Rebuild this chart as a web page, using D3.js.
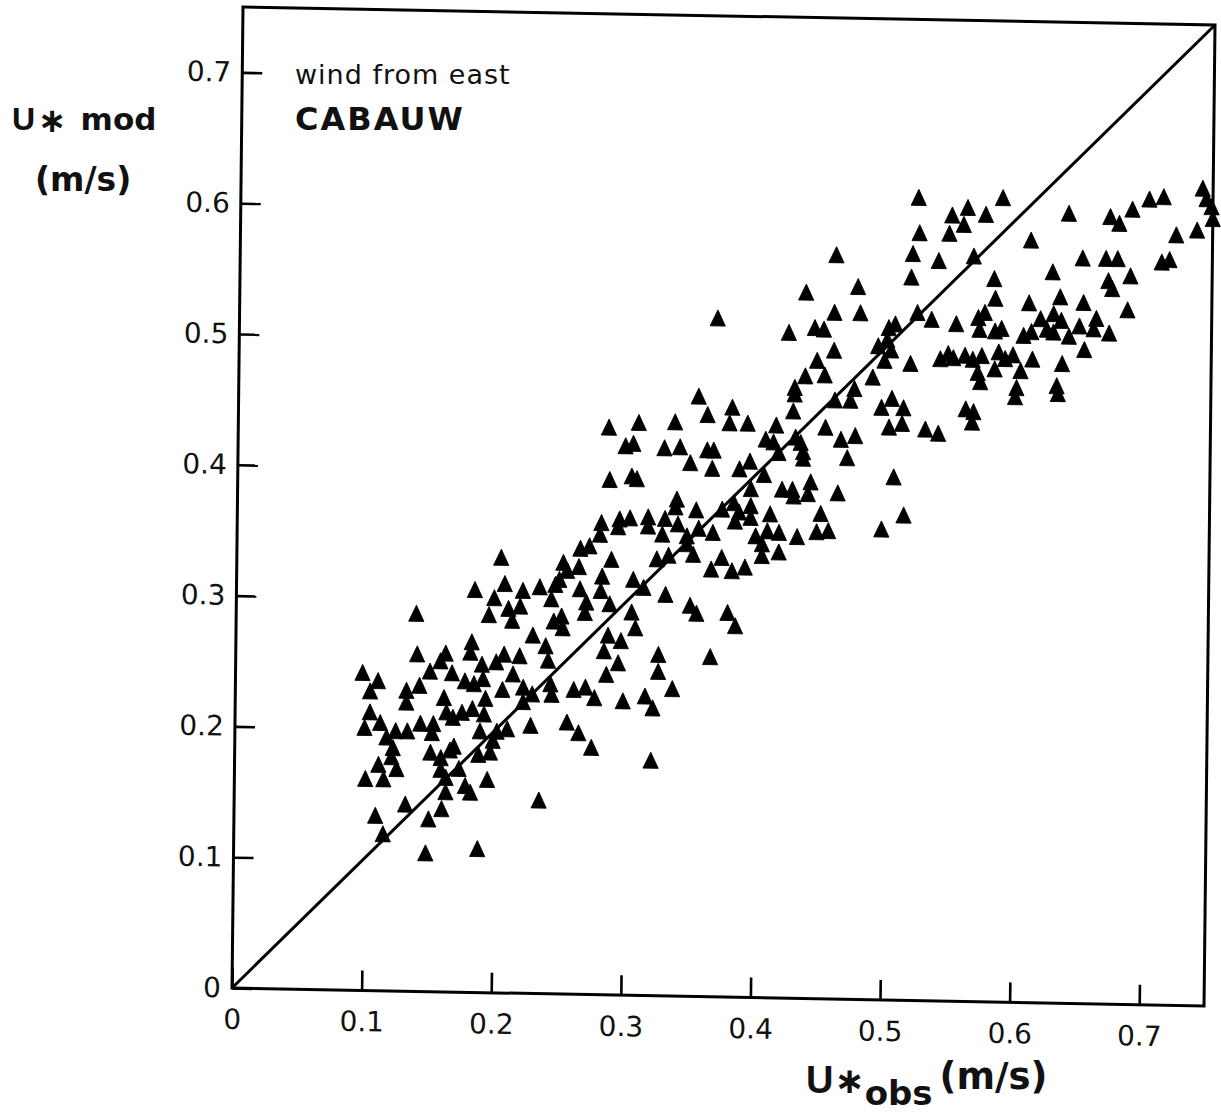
<!DOCTYPE html>
<html><head><meta charset="utf-8">
<script src="https://cdn.jsdelivr.net/npm/d3@7"></script>
<style>html,body{margin:0;padding:0;background:#fff}</style>
</head><body><div id="chart"></div>
<script>
// U*obs (m/s)
const obsX = [
0.204,0.252,0.184,0.207,0.221,0.234,0.246,0.249,0.255,0.199,0.210,0.219,0.195,0.213,0.243,0.245,0.252,0.251,0.139,0.229,
0.239,0.182,0.181,0.140,0.162,0.158,0.207,0.201,0.219,0.190,0.241,0.150,0.167,0.098,0.110,0.104,0.142,0.132,0.177,0.184,
0.191,0.214,0.222,0.206,0.193,0.161,0.132,0.243,0.244,0.229,0.261,0.104,0.100,0.112,0.117,0.124,0.133,0.143,0.153,0.152,
0.122,0.121,0.111,0.125,0.101,0.115,0.163,0.168,0.175,0.183,0.192,0.189,0.202,0.210,0.199,0.197,0.188,0.228,0.256,0.151,
0.159,0.169,0.166,0.173,0.159,0.163,0.163,0.178,0.182,0.195,0.160,0.150,0.132,0.109,0.115,0.148,0.188,0.235,0.222,0.265,
0.272,0.281,0.280,0.264,0.289,0.282,0.286,0.309,0.299,0.305,0.287,0.304,0.308,0.337,0.329,0.341,0.355,0.362,0.381,0.379,
0.393,0.362,0.367,0.349,0.366,0.387,0.395,0.406,0.415,0.407,0.413,0.417,0.339,0.338,0.354,0.295,0.303,0.294,0.317,0.317,
0.330,0.328,0.340,0.347,0.356,0.367,0.374,0.383,0.387,0.396,0.384,0.396,0.396,0.411,0.420,0.400,0.409,0.418,0.405,0.418,
0.405,0.352,0.347,0.333,0.324,0.374,0.366,0.382,0.392,0.306,0.369,0.265,0.281,0.270,0.269,0.288,0.314,0.331,0.305,0.308,
0.287,0.297,0.284,0.295,0.286,0.326,0.326,0.270,0.277,0.299,0.316,0.322,0.337,0.350,0.355,0.379,0.385,0.366,0.265,0.275,
0.321,0.523,0.588,0.549,0.561,0.558,0.575,0.524,0.547,0.460,0.519,0.539,0.566,0.518,0.582,0.583,0.477,0.437,0.459,0.479,
0.444,0.451,0.424,0.459,0.446,0.501,0.506,0.500,0.493,0.503,0.498,0.523,0.534,0.553,0.570,0.575,0.571,0.583,0.588,0.541,
0.547,0.551,0.560,0.566,0.573,0.586,0.591,0.518,0.437,0.452,0.429,0.429,0.428,0.489,0.475,0.472,0.460,0.453,0.430,0.434,
0.436,0.436,0.465,0.476,0.470,0.496,0.504,0.513,0.502,0.512,0.530,0.540,0.506,0.514,0.497,0.561,0.567,0.566,0.570,0.572,
0.583,0.428,0.429,0.442,0.440,0.463,0.450,0.447,0.456,0.432,0.639,0.610,0.671,0.678,0.688,0.701,0.712,0.742,0.745,0.749,
0.750,0.722,0.738,0.650,0.668,0.677,0.711,0.717,0.627,0.687,0.670,0.673,0.633,0.609,0.651,0.685,0.628,0.618,0.634,0.623,
0.628,0.648,0.661,0.659,0.640,0.671,0.611,0.605,0.652,0.597,0.612,0.603,0.635,0.600,0.599,0.631,0.632
];
// U*mod (m/s)
const modY = [
0.331,0.328,0.306,0.311,0.306,0.309,0.311,0.315,0.322,0.300,0.292,0.294,0.287,0.283,0.300,0.283,0.278,0.287,0.287,0.272,
0.264,0.266,0.258,0.256,0.257,0.251,0.257,0.251,0.256,0.249,0.253,0.243,0.242,0.241,0.235,0.227,0.232,0.228,0.236,0.234,
0.238,0.242,0.232,0.230,0.223,0.223,0.219,0.235,0.227,0.227,0.231,0.211,0.199,0.203,0.192,0.197,0.197,0.203,0.203,0.196,
0.184,0.177,0.171,0.168,0.160,0.160,0.212,0.208,0.212,0.215,0.211,0.198,0.198,0.200,0.191,0.182,0.180,0.203,0.206,0.181,
0.177,0.186,0.183,0.169,0.168,0.162,0.151,0.156,0.151,0.161,0.138,0.130,0.141,0.132,0.118,0.104,0.108,0.146,0.221,0.339,
0.341,0.359,0.350,0.325,0.331,0.318,0.432,0.436,0.418,0.420,0.392,0.395,0.393,0.437,0.417,0.418,0.457,0.443,0.449,0.437,
0.437,0.416,0.416,0.406,0.402,0.402,0.408,0.398,0.436,0.425,0.423,0.415,0.378,0.372,0.370,0.362,0.363,0.356,0.364,0.357,
0.363,0.351,0.359,0.350,0.356,0.353,0.371,0.376,0.369,0.374,0.362,0.365,0.387,0.368,0.387,0.351,0.355,0.354,0.345,0.339,
0.336,0.336,0.344,0.335,0.332,0.334,0.325,0.324,0.327,0.316,0.517,0.308,0.307,0.298,0.290,0.297,0.310,0.305,0.291,0.279,
0.273,0.269,0.261,0.252,0.243,0.259,0.246,0.233,0.225,0.223,0.227,0.218,0.233,0.297,0.291,0.292,0.282,0.258,0.198,0.187,
0.178,0.612,0.613,0.599,0.605,0.592,0.600,0.585,0.585,0.567,0.569,0.564,0.568,0.551,0.551,0.536,0.543,0.538,0.523,0.523,
0.511,0.510,0.507,0.494,0.486,0.512,0.515,0.503,0.498,0.495,0.487,0.524,0.519,0.516,0.521,0.525,0.512,0.511,0.513,0.489,
0.493,0.490,0.492,0.489,0.492,0.495,0.490,0.485,0.474,0.475,0.465,0.460,0.447,0.474,0.465,0.456,0.456,0.435,0.427,0.423,
0.416,0.411,0.426,0.429,0.412,0.451,0.458,0.451,0.436,0.439,0.435,0.432,0.398,0.369,0.358,0.451,0.449,0.441,0.479,0.472,
0.482,0.387,0.382,0.393,0.384,0.385,0.369,0.355,0.356,0.351,0.602,0.581,0.600,0.595,0.606,0.614,0.616,0.623,0.615,0.609,
0.600,0.587,0.591,0.568,0.568,0.568,0.566,0.568,0.557,0.555,0.551,0.545,0.538,0.533,0.534,0.529,0.525,0.521,0.520,0.513,
0.511,0.516,0.522,0.514,0.508,0.511,0.511,0.508,0.498,0.493,0.490,0.481,0.487,0.468,0.461,0.470,0.464
];
const xTicks = [0, 0.1, 0.2, 0.3, 0.4, 0.5, 0.6, 0.7];
const xTickLabels = ["0", "0.1", "0.2", "0.3", "0.4", "0.5", "0.6", "0.7"];
const yTicks = [0, 0.1, 0.2, 0.3, 0.4, 0.5, 0.6, 0.7];
const yTickLabels = ["0", "0.1", "0.2", "0.3", "0.4", "0.5", "0.6", "0.7"];
const axisMax = [0.75, 0.75];
const diagonal = [0, 0.75];
const noteLines = ["wind from east", "CABAUW"];

const W = 1221, H = 1112;
const pw = 972, ph = 981;
const svg = d3.select("#chart").append("svg").attr("width", W).attr("height", H);
svg.append("rect").attr("width", W).attr("height", H).attr("fill", "#fff");

const x = d3.scaleLinear().domain([0, axisMax[0]]).range([0, pw]);
const y = d3.scaleLinear().domain([0, axisMax[1]]).range([ph, 0]);

// scanned page is slightly skewed: reproduce with an affine transform
const g = svg.append("g").attr("transform", "matrix(1,0.0185,-0.0112,1,243,7)");

const tickFont = "'DejaVu Sans', sans-serif";
const titleFont = "'Liberation Sans', Arial, sans-serif";

const xAxis = d3.axisBottom(x).tickValues(xTicks).tickFormat((d, i) => xTickLabels[i])
  .tickSizeInner(-20).tickSizeOuter(0).tickPadding(21);
const gx = g.append("g").attr("transform", `translate(0,${ph})`).call(xAxis);
gx.select(".domain").remove();
gx.attr("font-family", tickFont).attr("font-size", 28);
gx.selectAll(".tick line").attr("stroke", "#000").attr("stroke-width", 2.6);
gx.selectAll(".tick text").attr("fill", "#111");

const yAxis = d3.axisLeft(y).tickValues(yTicks).tickFormat((d, i) => yTickLabels[i])
  .tickSizeInner(-20).tickSizeOuter(0).tickPadding(11);
const gy = g.append("g").call(yAxis);
gy.select(".domain").remove();
gy.attr("font-family", tickFont).attr("font-size", 28);
gy.selectAll(".tick line").attr("stroke", "#000").attr("stroke-width", 2.6);
gy.selectAll(".tick text").attr("fill", "#111");

// frame
g.append("rect").attr("x", x(0)).attr("y", y(axisMax[1])).attr("width", x(axisMax[0]) - x(0))
  .attr("height", y(0) - y(axisMax[1])).attr("fill", "none").attr("stroke", "#000").attr("stroke-width", 3);

// 1:1 line
g.append("line").attr("x1", x(diagonal[0])).attr("y1", y(diagonal[0]))
  .attr("x2", x(diagonal[1])).attr("y2", y(diagonal[1]))
  .attr("stroke", "#000").attr("stroke-width", 3);

// points
const tri = d3.symbol().type(d3.symbolTriangle).size(100);
g.append("g").selectAll("path").data(d3.range(obsX.length)).join("path")
  .attr("transform", i => `translate(${x(obsX[i])},${y(modY[i])}) scale(1,1.22)`)
  .attr("d", tri).attr("fill", "#000").attr("stroke", "#000")
  .attr("stroke-width", 0.8).attr("stroke-linejoin", "round");

// annotations
svg.append("text").attr("x", 295).attr("y", 84).attr("font-family", tickFont)
  .attr("font-size", 27).attr("letter-spacing", 1).attr("fill", "#111").text(noteLines[0]);
svg.append("text").attr("x", 295).attr("y", 130).attr("font-family", tickFont)
  .attr("font-size", 32).attr("font-weight", "bold").attr("letter-spacing", 2).attr("fill", "#111").text(noteLines[1]);

// y axis title
const yt = svg.append("text").attr("x", 12).attr("y", 130).attr("font-family", tickFont)
  .attr("font-weight", "bold").attr("fill", "#111");
yt.append("tspan").attr("font-family", titleFont).attr("font-size", 32).text("U");
yt.append("tspan").attr("font-size", 34).attr("dx", 3).attr("dy", 2).text("∗");
yt.append("tspan").attr("font-size", 31).attr("dx", 14).attr("dy", -2).text("mod");
svg.append("text").attr("x", 35).attr("y", 191).attr("font-family", tickFont).attr("font-weight", "bold")
  .attr("font-size", 33).attr("fill", "#111").text("(m/s)");

// x axis title
const xt = svg.append("text").attr("x", 806).attr("y", 1093).attr("font-family", tickFont)
  .attr("font-weight", "bold").attr("fill", "#111");
xt.append("tspan").attr("font-family", titleFont).attr("font-size", 38).text("U");
xt.append("tspan").attr("font-size", 36).attr("dx", 1).text("∗");
xt.append("tspan").attr("font-size", 34).attr("dx", 0).attr("dy", 12).text("obs");
xt.append("tspan").attr("font-size", 37).attr("dx", 7).attr("dy", -16).text("(m/s)");
</script>
</body></html>
